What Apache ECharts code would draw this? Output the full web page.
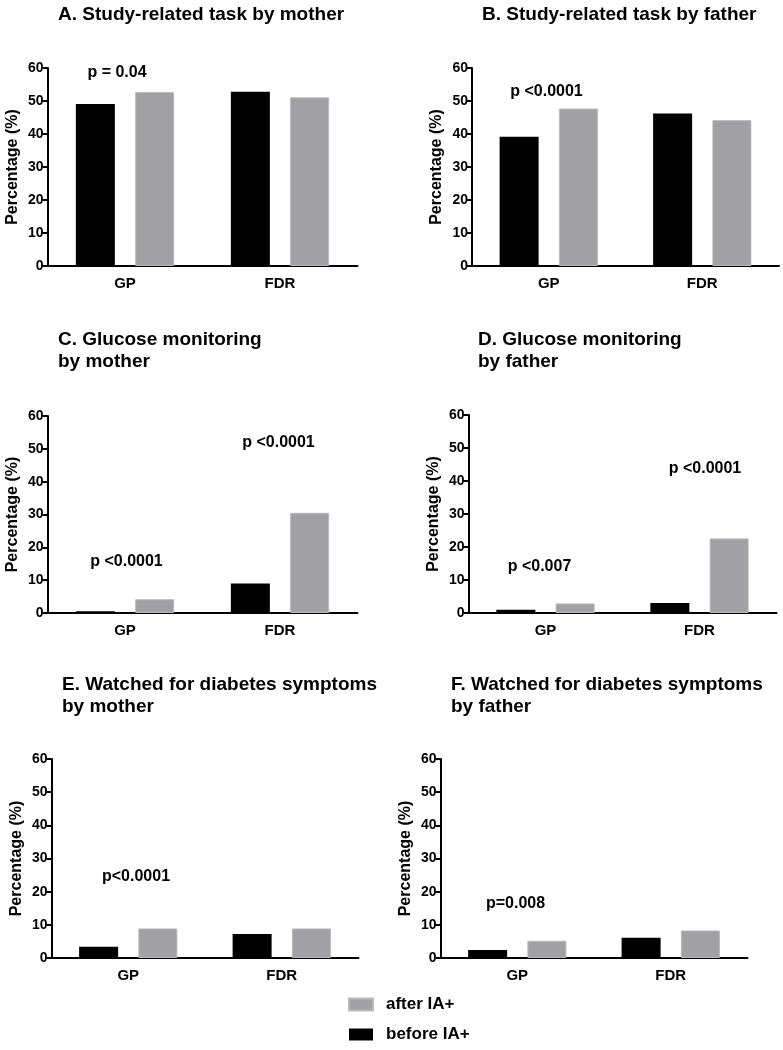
<!DOCTYPE html>
<html>
<head>
<meta charset="utf-8">
<script src="https://cdn.jsdelivr.net/npm/echarts@6/dist/echarts.min.js"></script>
<style>
html,body{margin:0;padding:0;background:#fff;}
#chart{width:783px;height:1050px;}
</style>
</head>
<body>
<div id="chart"></div>
<script>
// ---- data ----
const categories = ['GP', 'FDR'];
const yTicks = [0, 10, 20, 30, 40, 50, 60];
const panelTitles = [
  'A. Study-related task by mother',
  'B. Study-related task by father',
  'C. Glucose monitoring\nby mother',
  'D. Glucose monitoring\nby father',
  'E. Watched for diabetes symptoms\nby mother',
  'F. Watched for diabetes symptoms\nby father'
];
const beforeA = [49.1, 52.8];
const afterA  = [52.7, 51.1];
const beforeB = [39.2, 46.2];
const afterB  = [47.7, 44.2];
const beforeC = [0.5, 9.0];
const afterC  = [4.2, 30.5];
const beforeD = [1.0, 3.0];
const afterD  = [2.9, 22.6];
const beforeE = [3.4, 7.2];
const afterE  = [8.9, 8.9];
const beforeF = [2.4, 6.1];
const afterF  = [5.2, 8.3];
const pLabelsA = ['p = 0.04'];
const pLabelsB = ['p <0.0001'];
const pLabelsC = ['p <0.0001', 'p <0.0001'];
const pLabelsD = ['p <0.007', 'p <0.0001'];
const pLabelsE = ['p<0.0001'];
const pLabelsF = ['p=0.008'];
const seriesNames = ['before IA+', 'after IA+'];

// ---- layout ----
const FONT = '"Liberation Sans", Arial, Helvetica, sans-serif';
const grids = [
  {left: 47.5, top: 68,  width: 310, height: 198},
  {left: 472,  top: 68,  width: 307, height: 198},
  {left: 47.5, top: 416, width: 310, height: 197},
  {left: 468.5,top: 415, width: 308, height: 198},
  {left: 51.5, top: 759, width: 307, height: 199},
  {left: 440.5,top: 759, width: 307, height: 199}
];
const titlePos = [
  {left: 58, top: 4}, {left: 482, top: 4},
  {left: 58, top: 329}, {left: 478, top: 329},
  {left: 62, top: 674}, {left: 451, top: 674}
];
const pPos = [
  [[117, 73]],
  [[546.5, 92]],
  [[126.5, 562], [278.5, 443]],
  [[539.5, 567], [705, 469]],
  [[136, 877]],
  [[515.5, 904]]
];
const befores = [beforeA, beforeB, beforeC, beforeD, beforeE, beforeF];
const afters = [afterA, afterB, afterC, afterD, afterE, afterF];
const pLabels = [pLabelsA, pLabelsB, pLabelsC, pLabelsD, pLabelsE, pLabelsF];

const BLACK = '#000000';
const GRAY = '#a1a0a5';

const xAxes = [], yAxes = [], series = [], titles = [], graphics = [];
grids.forEach((g, i) => {
  xAxes.push({
    type: 'category', gridIndex: i, data: categories,
    axisLine: {lineStyle: {color: '#000', width: 2}},
    axisTick: {alignWithLabel: true, length: 5, lineStyle: {color: '#000', width: 2}},
    axisLabel: {color: '#000', fontFamily: FONT, fontWeight: 'bold', fontSize: 15, margin: 10}
  });
  yAxes.push({
    type: 'value', gridIndex: i, min: yTicks[0], max: yTicks[yTicks.length - 1], interval: 10,
    name: 'Percentage (%)', nameLocation: 'middle', nameGap: 27,
    nameTextStyle: {color: '#000', fontFamily: FONT, fontWeight: 'bold', fontSize: 16},
    axisLine: {show: true, lineStyle: {color: '#000', width: 2}},
    axisTick: {show: true, length: 5, lineStyle: {color: '#000', width: 2}},
    axisLabel: {color: '#000', fontFamily: FONT, fontWeight: 'bold', fontSize: 14, margin: 4},
    splitLine: {show: false}
  });
  series.push({
    name: seriesNames[0], type: 'bar', xAxisIndex: i, yAxisIndex: i,
    data: befores[i], barWidth: 39, barGap: '52%',
    itemStyle: {color: BLACK}, silent: true
  });
  series.push({
    name: seriesNames[1], type: 'bar', xAxisIndex: i, yAxisIndex: i,
    data: afters[i], barWidth: 39, barGap: '52%',
    itemStyle: {color: GRAY, borderColor: '#b9b9bc', borderWidth: 1}, silent: true
  });
  titles.push({
    text: panelTitles[i], left: titlePos[i].left, top: titlePos[i].top, padding: 0,
    textStyle: {color: '#000', fontFamily: FONT, fontWeight: 'bold', fontSize: 19, lineHeight: 22}
  });
  pLabels[i].forEach((t, k) => {
    graphics.push({
      type: 'text', x: pPos[i][k][0], y: pPos[i][k][1],
      style: {text: t, fill: '#000', font: 'bold 16px ' + FONT, textAlign: 'center', textVerticalAlign: 'middle'}
    });
  });
});

const chart = echarts.init(document.getElementById('chart'), null, {renderer: 'canvas'});
chart.setOption({
  animation: false,
  backgroundColor: '#fff',
  title: titles,
  grid: grids,
  xAxis: xAxes,
  yAxis: yAxes,
  series: series,
  legend: {
    data: [seriesNames[1], seriesNames[0]],
    orient: 'vertical', left: 348, top: 996, padding: 0,
    itemWidth: 24, itemHeight: 12, itemGap: 13,
    icon: 'rect',
    textStyle: {color: '#000', fontFamily: FONT, fontWeight: 'bold', fontSize: 17, padding: [0, 0, 0, 8]},
    selectedMode: false
  },
  graphic: graphics
});
</script>
</body>
</html>
